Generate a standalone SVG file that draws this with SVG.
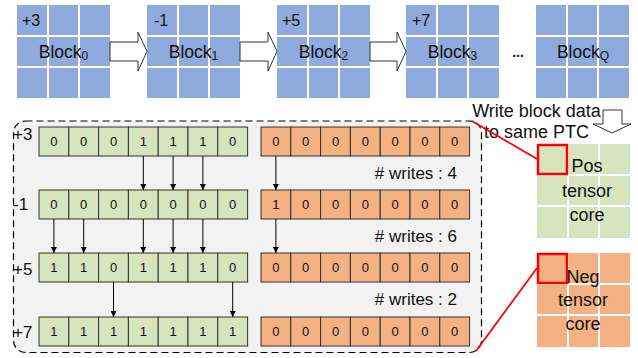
<svg xmlns="http://www.w3.org/2000/svg" width="638" height="358" viewBox="0 0 638 358">
<defs>
<style>
.blk{fill:#8faadc}
.gl{stroke:#fff;stroke-width:2}
.gr{fill:#d7e4bd}
.or{fill:#f4b183}
.cg{fill:#d7e4bd;stroke:#333;stroke-width:1}
.co{fill:#f4b183;stroke:#333;stroke-width:1}
.t{font-family:"Liberation Sans",Arial,sans-serif;fill:#111}
.v{font-size:13px;text-anchor:middle}
.bl{font-size:17.5px;text-anchor:middle}
.bn{font-size:16px}
.rl{font-size:17px}
.wr{font-size:17px;text-anchor:end}
.big{font-size:18px;text-anchor:middle}
.barr{fill:#fff;stroke:#333;stroke-width:1}
.ln{stroke:#000;stroke-width:1;fill:none}
.red{stroke:#ff0000;stroke-width:1.8;fill:none}
.redsq{stroke:#ff0000;stroke-width:2.5;fill:none}
</style>
<marker id="ah" markerWidth="6" markerHeight="6" refX="6" refY="3" orient="auto" markerUnits="userSpaceOnUse"><path d="M0,0 L6,3 L0,6 z" fill="#000"/></marker>
</defs>
<rect width="638" height="358" fill="#fff"/>

<!-- top blocks -->
<g id="block0">
<rect class="blk" x="17" y="5" width="93" height="93"/>
<path class="gl" d="M48,5V98M79,5V98M17,36H110M17,67H110"/>
<text class="t bn" x="22" y="26">+3</text>
<text class="t bl" x="63.5" y="57.5">Block<tspan font-size="12" dy="2">0</tspan></text>
</g>
<g id="block1">
<rect class="blk" x="147" y="5" width="93" height="93"/>
<path class="gl" d="M178,5V98M209,5V98M147,36H240M147,67H240"/>
<text class="t bn" x="154" y="26">-1</text>
<text class="t bl" x="193.5" y="57.5">Block<tspan font-size="12" dy="2">1</tspan></text>
</g>
<g id="block2">
<rect class="blk" x="277" y="5" width="93" height="93"/>
<path class="gl" d="M308,5V98M339,5V98M277,36H370M277,67H370"/>
<text class="t bn" x="282" y="26">+5</text>
<text class="t bl" x="323.5" y="57.5">Block<tspan font-size="12" dy="2">2</tspan></text>
</g>
<g id="block3">
<rect class="blk" x="406" y="5" width="93" height="93"/>
<path class="gl" d="M437,5V98M468,5V98M406,36H499M406,67H499"/>
<text class="t bn" x="412" y="26">+7</text>
<text class="t bl" x="452.5" y="57.5">Block<tspan font-size="12" dy="2">3</tspan></text>
</g>
<g id="ellipsis">
<text class="t" x="518" y="57" font-size="14" font-weight="bold" text-anchor="middle">...</text>
</g>
<g id="blockQ">
<rect class="blk" x="536" y="5" width="93" height="93"/>
<path class="gl" d="M567,5V98M598,5V98M536,36H629M536,67H629"/>
<text class="t bl" x="583" y="57.5">Block<tspan font-size="12" dy="2">Q</tspan></text>
</g>

<!-- panel -->
<g id="panel">
<rect x="13.5" y="121" width="468" height="231.5" rx="12" ry="12" fill="#f2f2f2" stroke="#000" stroke-width="1.2" stroke-dasharray="7,4"/>
</g>

<!-- left arrays -->
<g id="row-p3-pos" transform="translate(0,127)">
<text class="t rl" x="13" y="13">+3</text>
<rect class="cg" x="39" y="0" width="29.8" height="29"/><rect class="cg" x="68.8" y="0" width="29.8" height="29"/><rect class="cg" x="98.6" y="0" width="29.8" height="29"/><rect class="cg" x="128.4" y="0" width="29.8" height="29"/><rect class="cg" x="158.2" y="0" width="29.8" height="29"/><rect class="cg" x="188" y="0" width="29.8" height="29"/><rect class="cg" x="217.8" y="0" width="29.8" height="29"/>
<text class="t v" x="53.9" y="19">0</text><text class="t v" x="83.7" y="19">0</text><text class="t v" x="113.5" y="19">0</text><text class="t v" x="143.3" y="19">1</text><text class="t v" x="173.1" y="19">1</text><text class="t v" x="202.9" y="19">1</text><text class="t v" x="232.7" y="19">0</text>
</g>
<g id="row-m1-pos" transform="translate(0,190)">
<text class="t rl" x="13" y="20">-1</text>
<rect class="cg" x="39" y="0" width="29.8" height="29"/><rect class="cg" x="68.8" y="0" width="29.8" height="29"/><rect class="cg" x="98.6" y="0" width="29.8" height="29"/><rect class="cg" x="128.4" y="0" width="29.8" height="29"/><rect class="cg" x="158.2" y="0" width="29.8" height="29"/><rect class="cg" x="188" y="0" width="29.8" height="29"/><rect class="cg" x="217.8" y="0" width="29.8" height="29"/>
<text class="t v" x="53.9" y="19">0</text><text class="t v" x="83.7" y="19">0</text><text class="t v" x="113.5" y="19">0</text><text class="t v" x="143.3" y="19">0</text><text class="t v" x="173.1" y="19">0</text><text class="t v" x="202.9" y="19">0</text><text class="t v" x="232.7" y="19">0</text>
</g>
<g id="row-p5-pos" transform="translate(0,253)">
<text class="t rl" x="13" y="22">+5</text>
<rect class="cg" x="39" y="0" width="29.8" height="29"/><rect class="cg" x="68.8" y="0" width="29.8" height="29"/><rect class="cg" x="98.6" y="0" width="29.8" height="29"/><rect class="cg" x="128.4" y="0" width="29.8" height="29"/><rect class="cg" x="158.2" y="0" width="29.8" height="29"/><rect class="cg" x="188" y="0" width="29.8" height="29"/><rect class="cg" x="217.8" y="0" width="29.8" height="29"/>
<text class="t v" x="53.9" y="19">1</text><text class="t v" x="83.7" y="19">1</text><text class="t v" x="113.5" y="19">0</text><text class="t v" x="143.3" y="19">1</text><text class="t v" x="173.1" y="19">1</text><text class="t v" x="202.9" y="19">1</text><text class="t v" x="232.7" y="19">0</text>
</g>
<g id="row-p7-pos" transform="translate(0,317)">
<text class="t rl" x="13" y="21">+7</text>
<rect class="cg" x="39" y="0" width="29.8" height="29"/><rect class="cg" x="68.8" y="0" width="29.8" height="29"/><rect class="cg" x="98.6" y="0" width="29.8" height="29"/><rect class="cg" x="128.4" y="0" width="29.8" height="29"/><rect class="cg" x="158.2" y="0" width="29.8" height="29"/><rect class="cg" x="188" y="0" width="29.8" height="29"/><rect class="cg" x="217.8" y="0" width="29.8" height="29"/>
<text class="t v" x="53.9" y="19">1</text><text class="t v" x="83.7" y="19">1</text><text class="t v" x="113.5" y="19">1</text><text class="t v" x="143.3" y="19">1</text><text class="t v" x="173.1" y="19">1</text><text class="t v" x="202.9" y="19">1</text><text class="t v" x="232.7" y="19">1</text>
</g>

<!-- right arrays -->
<g id="row-p3-neg" transform="translate(0,127)">
<rect class="co" x="261" y="0" width="29.8" height="29"/><rect class="co" x="290.8" y="0" width="29.8" height="29"/><rect class="co" x="320.6" y="0" width="29.8" height="29"/><rect class="co" x="350.4" y="0" width="29.8" height="29"/><rect class="co" x="380.2" y="0" width="29.8" height="29"/><rect class="co" x="410" y="0" width="29.8" height="29"/><rect class="co" x="439.8" y="0" width="29.8" height="29"/>
<text class="t v" x="275.9" y="19">0</text><text class="t v" x="305.7" y="19">0</text><text class="t v" x="335.5" y="19">0</text><text class="t v" x="365.3" y="19">0</text><text class="t v" x="395.1" y="19">0</text><text class="t v" x="424.9" y="19">0</text><text class="t v" x="454.7" y="19">0</text>
</g>
<g id="row-m1-neg" transform="translate(0,190)">
<rect class="co" x="261" y="0" width="29.8" height="29"/><rect class="co" x="290.8" y="0" width="29.8" height="29"/><rect class="co" x="320.6" y="0" width="29.8" height="29"/><rect class="co" x="350.4" y="0" width="29.8" height="29"/><rect class="co" x="380.2" y="0" width="29.8" height="29"/><rect class="co" x="410" y="0" width="29.8" height="29"/><rect class="co" x="439.8" y="0" width="29.8" height="29"/>
<text class="t v" x="275.9" y="19">1</text><text class="t v" x="305.7" y="19">0</text><text class="t v" x="335.5" y="19">0</text><text class="t v" x="365.3" y="19">0</text><text class="t v" x="395.1" y="19">0</text><text class="t v" x="424.9" y="19">0</text><text class="t v" x="454.7" y="19">0</text>
</g>
<g id="row-p5-neg" transform="translate(0,253)">
<rect class="co" x="261" y="0" width="29.8" height="29"/><rect class="co" x="290.8" y="0" width="29.8" height="29"/><rect class="co" x="320.6" y="0" width="29.8" height="29"/><rect class="co" x="350.4" y="0" width="29.8" height="29"/><rect class="co" x="380.2" y="0" width="29.8" height="29"/><rect class="co" x="410" y="0" width="29.8" height="29"/><rect class="co" x="439.8" y="0" width="29.8" height="29"/>
<text class="t v" x="275.9" y="19">0</text><text class="t v" x="305.7" y="19">0</text><text class="t v" x="335.5" y="19">0</text><text class="t v" x="365.3" y="19">0</text><text class="t v" x="395.1" y="19">0</text><text class="t v" x="424.9" y="19">0</text><text class="t v" x="454.7" y="19">0</text>
</g>
<g id="row-p7-neg" transform="translate(0,317)">
<rect class="co" x="261" y="0" width="29.8" height="29"/><rect class="co" x="290.8" y="0" width="29.8" height="29"/><rect class="co" x="320.6" y="0" width="29.8" height="29"/><rect class="co" x="350.4" y="0" width="29.8" height="29"/><rect class="co" x="380.2" y="0" width="29.8" height="29"/><rect class="co" x="410" y="0" width="29.8" height="29"/><rect class="co" x="439.8" y="0" width="29.8" height="29"/>
<text class="t v" x="275.9" y="19">0</text><text class="t v" x="305.7" y="19">0</text><text class="t v" x="335.5" y="19">0</text><text class="t v" x="365.3" y="19">0</text><text class="t v" x="395.1" y="19">0</text><text class="t v" x="424.9" y="19">0</text><text class="t v" x="454.7" y="19">0</text>
</g>

<g id="writes-labels">
<text class="t wr" x="457" y="179">#&#160;writes : 4</text>
<text class="t wr" x="457" y="242">#&#160;writes : 6</text>
<text class="t wr" x="457" y="305">#&#160;writes : 2</text>
</g>

<!-- tensor cores -->
<g id="pos-core">
<rect class="gr" x="537" y="144" width="93" height="94"/>
<path class="gl" d="M568,144V238M599,144V238M537,175H630M537,206H630"/>
<rect class="redsq" x="538" y="145" width="29" height="29"/>
<text class="t big" x="587" y="172">Pos</text>
<text class="t big" x="587" y="197">tensor</text>
<text class="t big" x="587" y="221">core</text>
</g>
<g id="neg-core">
<rect class="or" x="537" y="253" width="93" height="94"/>
<path class="gl" d="M568,253V347M599,253V347M537,284H630M537,315H630"/>
<rect class="redsq" x="538" y="254" width="29" height="29"/>
<text class="t big" x="583" y="283">Neg</text>
<text class="t big" x="583" y="306">tensor</text>
<text class="t big" x="583" y="330">core</text>
</g>
<g id="write-label">
<text class="t big" x="536.5" y="117">Write block data</text>
<text class="t big" x="536.5" y="138">to same PTC</text>
</g>

<!-- connectors -->
<g id="connectors">
<polygon class="barr" points="110,42 138,42 138,32 147,51.5 138,71 138,61 110,61"/>
<polygon class="barr" points="240,42 268,42 268,32 277,51.5 268,71 268,61 240,61"/>
<polygon class="barr" points="370,42 397,42 397,32 406,51.5 397,71 397,61 370,61"/>
<polygon class="barr" points="603,110 622,110 622,124 631,124 612,133 593,124 603,124"/>
<line class="ln" x1="143.3" y1="156" x2="143.3" y2="190" marker-end="url(#ah)"/>
<line class="ln" x1="173.1" y1="156" x2="173.1" y2="190" marker-end="url(#ah)"/>
<line class="ln" x1="202.9" y1="156" x2="202.9" y2="190" marker-end="url(#ah)"/>
<line class="ln" x1="53.9" y1="219" x2="53.9" y2="253" marker-end="url(#ah)"/>
<line class="ln" x1="83.7" y1="219" x2="83.7" y2="253" marker-end="url(#ah)"/>
<line class="ln" x1="143.3" y1="219" x2="143.3" y2="253" marker-end="url(#ah)"/>
<line class="ln" x1="173.1" y1="219" x2="173.1" y2="253" marker-end="url(#ah)"/>
<line class="ln" x1="202.9" y1="219" x2="202.9" y2="253" marker-end="url(#ah)"/>
<line class="ln" x1="113.5" y1="282" x2="113.5" y2="317" marker-end="url(#ah)"/>
<line class="ln" x1="232.7" y1="282" x2="232.7" y2="317" marker-end="url(#ah)"/>
<line class="ln" x1="275.9" y1="156" x2="275.9" y2="190" marker-end="url(#ah)"/>
<line class="ln" x1="275.9" y1="219" x2="275.9" y2="253" marker-end="url(#ah)"/>
<line class="red" x1="472" y1="121" x2="537" y2="159"/>
<line class="red" x1="476" y1="351" x2="537" y2="268"/>
</g>
</svg>
